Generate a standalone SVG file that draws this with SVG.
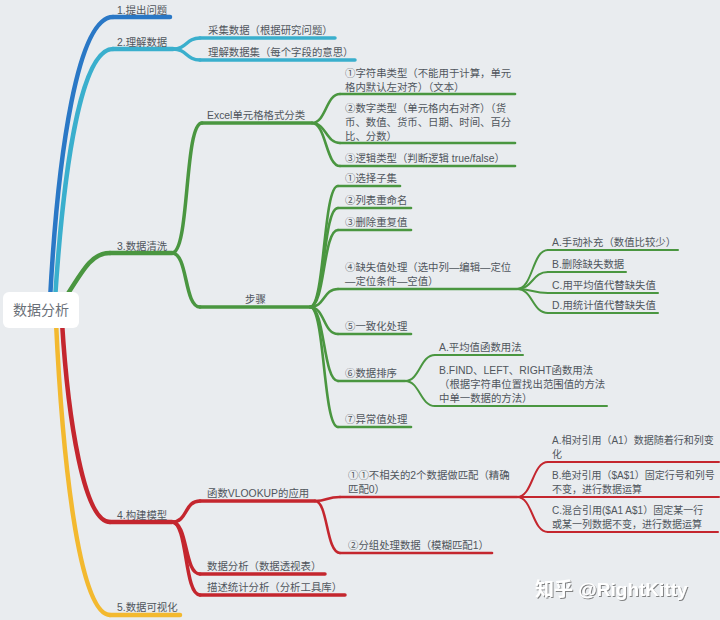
<svg xmlns="http://www.w3.org/2000/svg" width="720" height="620" viewBox="0 0 720 620">
<defs>
<style>
text{font-family:"Liberation Sans","Noto Sans CJK SC",sans-serif;font-size:10.4px;fill:#50565d}
.c{font-family:"Noto Sans CJK SC",sans-serif}
.sm{font-size:10px}
.root{font-size:14px;fill:#6a7078}
path,line{fill:none;stroke-linecap:round}
.blue{stroke:#2a78c6}
.cyan{stroke:#3aafcd}
.green{stroke:#4a9640}
.red{stroke:#c4262e}
.yellow{stroke:#f3b92f}
.w1{stroke-width:4.5}
.w2{stroke-width:3.5}
.w3{stroke-width:2.6}
.w4{stroke-width:2}
.wm{font-size:19px;font-weight:bold;fill:#ffffff;filter:url(#sh)}
</style>
<filter id="sh" x="-10%" y="-30%" width="120%" height="160%">
<feDropShadow dx="1" dy="1" stdDeviation="0.6" flood-color="#555" flood-opacity="0.7"/>
</filter>
</defs>
<rect width="720" height="620" fill="#e9ecef"/>

<g id="connectors">
<path class="blue w1" d="M50,300 C58,150 78,17 113,17"/>
<path class="cyan w1" d="M55,300 C64,160 82,49 113,49"/>
<path class="green w1" d="M64,300 C84,268 92,253 110,253"/>
<path class="red w1" d="M62,322 C68,420 84,522 110,522"/>
<path class="yellow w1" d="M56,322 C62,450 78,615 110,615"/>

<path class="cyan w2" d="M173,49 C187,49 186,38 200,38"/>
<path class="cyan w2" d="M173,49 C187,49 186,60 200,60"/>

<path class="green w2" d="M172,253 C190,253 184,123 202,123"/>
<path class="green w2" d="M172,253 C188,253 184,307 200,307"/>

<path class="green w3" d="M312,123 C326,123 326,94 340,94"/>
<path class="green w3" d="M312,123 C326,123 326,143 340,143"/>
<path class="green w3" d="M312,123 C326,123 326,166 340,166"/>

<path class="green w3" d="M310,307 C325,307 323,186 338,186"/>
<path class="green w3" d="M310,307 C325,307 323,208 338,208"/>
<path class="green w3" d="M310,307 C325,307 323,230 338,230"/>
<path class="green w3" d="M310,307 C325,307 323,289 338,289"/>
<path class="green w3" d="M310,307 C325,307 323,334 338,334"/>
<path class="green w3" d="M310,307 C325,307 323,381 338,381"/>
<path class="green w3" d="M310,307 C325,307 323,427 338,427"/>

<path class="green w4" d="M517,289 C533,289 532,250 548,250"/>
<path class="green w4" d="M517,289 C533,289 532,272 548,272"/>
<path class="green w4" d="M517,289 C533,289 532,293 548,293"/>
<path class="green w4" d="M517,289 C533,289 532,313 548,313"/>

<path class="green w4" d="M405,381 C420,381 420,355 435,355"/>
<path class="green w4" d="M405,381 C420,381 420,406 435,406"/>

<path class="red w2" d="M172,522 C188,522 184,501 200,501"/>
<path class="red w2" d="M172,522 C188,522 184,574 200,574"/>
<path class="red w2" d="M172,522 C188,522 184,595 200,595"/>

<path class="red w3" d="M315,501 C328,501 326,497 340,497"/>
<path class="red w3" d="M315,501 C328,501 326,553 340,553"/>

<path class="red w4" d="M517,497 C533,497 532,462 548,462"/>
<path class="red w4" d="M517,497 C533,497 532,497 548,497"/>
<path class="red w4" d="M517,497 C533,497 532,532 548,532"/>
</g>

<g id="root">
<rect x="3" y="292" width="76" height="36" rx="6" fill="#ffffff"/>
<text class="root" x="41" y="315" text-anchor="middle">数据分析</text>
</g>

<g id="n1"><line class="blue w1" x1="113" y1="17" x2="170" y2="17"/><text x="117" y="14">1.提出问题</text></g>
<g id="n2"><line class="cyan w1" x1="113" y1="49" x2="173" y2="49"/><text x="117" y="46">2.理解数据</text></g>
<g id="n2a"><line class="cyan w2" x1="200" y1="38" x2="335" y2="38"/><text x="208" y="34">采集数据（根据研究问题）</text></g>
<g id="n2b"><line class="cyan w2" x1="200" y1="60" x2="355" y2="60"/><text x="208" y="56">理解数据集（每个字段的意思）</text></g>

<g id="n3"><line class="green w1" x1="110" y1="253" x2="172" y2="253"/><text x="117" y="250">3.数据清洗</text></g>
<g id="n3a"><line class="green w2" x1="202" y1="123" x2="312" y2="123"/><text x="207" y="119">Excel单元格格式分类</text></g>
<g id="n3a1"><line class="green w3" x1="340" y1="94" x2="515" y2="94"/><text x="345" y="77"><tspan class="c">①</tspan>字符串类型（不能用于计算，单元</text><text x="345" y="91">格内默认左对齐）（文本）</text></g>
<g id="n3a2"><line class="green w3" x1="340" y1="143" x2="515" y2="143"/><text x="345" y="112"><tspan class="c">②</tspan>数字类型（单元格内右对齐）（货</text><text x="345" y="126">币、数值、货币、日期、时间、百分</text><text x="345" y="140">比、分数）</text></g>
<g id="n3a3"><line class="green w3" x1="340" y1="166" x2="515" y2="166"/><text x="345" y="162"><tspan class="c">③</tspan>逻辑类型（判断逻辑 true/false）</text></g>

<g id="n3b"><line class="green w2" x1="200" y1="307" x2="310" y2="307"/><text x="245" y="303">步骤</text></g>
<g id="s1"><line class="green w3" x1="338" y1="186" x2="400" y2="186"/><text x="345" y="182"><tspan class="c">①</tspan>选择子集</text></g>
<g id="s2"><line class="green w3" x1="338" y1="208" x2="411" y2="208"/><text x="345" y="204"><tspan class="c">②</tspan>列表重命名</text></g>
<g id="s3"><line class="green w3" x1="338" y1="230" x2="411" y2="230"/><text x="345" y="226"><tspan class="c">③</tspan>删除重复值</text></g>
<g id="s4"><line class="green w3" x1="338" y1="289" x2="517" y2="289"/><text x="345" y="271"><tspan class="c">④</tspan>缺失值处理（选中列—编辑—定位</text><text x="345" y="285">—定位条件—空值）</text></g>
<g id="s4a"><line class="green w4" x1="548" y1="250" x2="678" y2="250"/><text x="552" y="246">A.手动补充（数值比较少）</text></g>
<g id="s4b"><line class="green w4" x1="548" y1="272" x2="626" y2="272"/><text x="552" y="268">B.删除缺失数据</text></g>
<g id="s4c"><line class="green w4" x1="548" y1="293" x2="658" y2="293"/><text x="552" y="289">C.用平均值代替缺失值</text></g>
<g id="s4d"><line class="green w4" x1="548" y1="313" x2="658" y2="313"/><text x="552" y="309">D.用统计值代替缺失值</text></g>
<g id="s5"><line class="green w3" x1="338" y1="334" x2="411" y2="334"/><text x="345" y="330"><tspan class="c">⑤</tspan>一致化处理</text></g>
<g id="s6"><line class="green w3" x1="338" y1="381" x2="405" y2="381"/><text x="345" y="377"><tspan class="c">⑥</tspan>数据排序</text></g>
<g id="s6a"><line class="green w4" x1="435" y1="355" x2="523" y2="355"/><text x="439" y="351">A.平均值函数用法</text></g>
<g id="s6b"><line class="green w4" x1="435" y1="406" x2="607" y2="406"/><text x="439" y="374">B.FIND、LEFT、RIGHT函数用法</text><text x="439" y="388">（根据字符串位置找出范围值的方法</text><text x="439" y="402">中单一数据的方法）</text></g>
<g id="s7"><line class="green w3" x1="338" y1="427" x2="411" y2="427"/><text x="345" y="423"><tspan class="c">⑦</tspan>异常值处理</text></g>

<g id="n4"><line class="red w1" x1="110" y1="522" x2="172" y2="522"/><text x="117" y="519">4.构建模型</text></g>
<g id="n4a"><line class="red w2" x1="200" y1="501" x2="315" y2="501"/><text x="207" y="497">函数VLOOKUP的应用</text></g>
<g id="n4a1"><line class="red w3" x1="340" y1="497" x2="517" y2="497"/><text x="348" y="479"><tspan class="c">①①</tspan>不相关的2个数据做匹配（精确</text><text x="348" y="493">匹配0）</text></g>
<g id="r1"><line class="red w4" x1="548" y1="462" x2="719" y2="462"/><text class="sm" x="552" y="444">A.相对引用（A1）数据随着行和列变</text><text class="sm" x="552" y="458">化</text></g>
<g id="r2"><line class="red w4" x1="548" y1="497" x2="719" y2="497"/><text class="sm" x="552" y="479">B.绝对引用（$A$1）固定行号和列号</text><text class="sm" x="552" y="493">不变，进行数据运算</text></g>
<g id="r3"><line class="red w4" x1="548" y1="532" x2="718" y2="532"/><text class="sm" x="552" y="514">C.混合引用($A1  A$1）固定某一行</text><text class="sm" x="552" y="528">或某一列数据不变，进行数据运算</text></g>
<g id="n4a2"><line class="red w3" x1="340" y1="553" x2="492" y2="553"/><text x="348" y="549"><tspan class="c">②</tspan>分组处理数据（模糊匹配1）</text></g>
<g id="n4b"><line class="red w2" x1="200" y1="574" x2="325" y2="574"/><text x="207" y="570">数据分析（数据透视表）</text></g>
<g id="n4c"><line class="red w2" x1="200" y1="595" x2="345" y2="595"/><text x="207" y="591">描述统计分析（分析工具库）</text></g>

<g id="n5"><line class="yellow w1" x1="110" y1="615" x2="180" y2="615"/><text x="117" y="611">5.数据可视化</text></g>

<text class="wm" x="535" y="596">知乎 @RightKitty</text>
</svg>
